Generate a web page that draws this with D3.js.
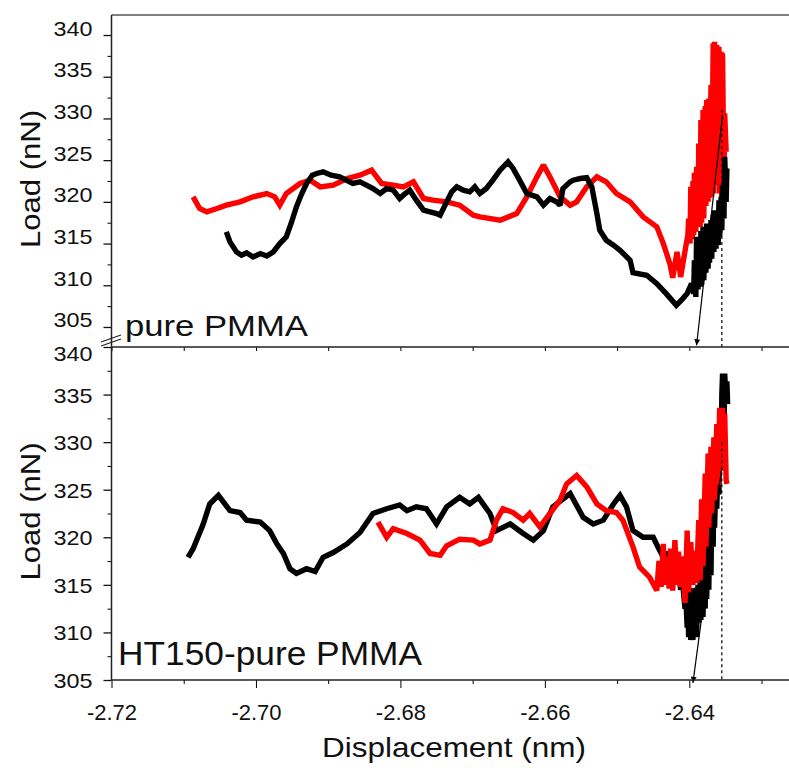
<!DOCTYPE html>
<html>
<head>
<meta charset="utf-8">
<script src="https://cdn.jsdelivr.net/npm/d3@7"></script>
<style>
  body { margin: 0; background: #fff; }
  text { font-family: Arial, "Liberation Sans", sans-serif; fill: #111; }
</style>
</head>
<body>
<div id="chart"></div>
<script>
// tick values
const xMajor = [-2.72, -2.70, -2.68, -2.66, -2.64];
const xMinor = [-2.71, -2.69, -2.67, -2.65, -2.63];
const yMajor = [305, 310, 315, 320, 325, 330, 335, 340];
const yMinor = [307.5, 312.5, 317.5, 322.5, 327.5, 332.5, 337.5];

// pure PMMA (top panel) : [displacement, load]
const topBlack = [[-2.7041,316.4],[-2.7036,315.2],[-2.7027,314.0],[-2.7020,313.6],[-2.7013,313.9],[-2.7004,313.4],[-2.6994,313.8],[-2.6985,313.5],[-2.6976,314.0],[-2.6967,315.0],[-2.6958,315.8],[-2.6951,317.5],[-2.6944,319.4],[-2.6937,320.9],[-2.6930,322.2],[-2.6922,323.2],[-2.6916,323.4],[-2.6907,323.6],[-2.6896,323.2],[-2.6884,323.0],[-2.6875,322.6],[-2.6866,322.2],[-2.6856,322.4],[-2.6847,322.0],[-2.6838,321.6],[-2.6828,321.0],[-2.6819,321.6],[-2.6810,321.4],[-2.6801,320.4],[-2.6796,320.8],[-2.6787,321.4],[-2.6778,320.2],[-2.6768,319.0],[-2.6759,318.8],[-2.6750,318.6],[-2.6745,318.4],[-2.6736,320.0],[-2.6729,321.2],[-2.6722,321.8],[-2.6713,321.4],[-2.6704,321.2],[-2.6697,321.8],[-2.6690,321.0],[-2.6681,321.6],[-2.6672,322.6],[-2.6662,323.8],[-2.6651,324.8],[-2.6644,324.0],[-2.6635,322.6],[-2.6625,321.0],[-2.6611,320.6],[-2.6602,319.6],[-2.6593,320.4],[-2.6584,320.0],[-2.6579,319.6],[-2.6575,321.6],[-2.6565,322.4],[-2.6561,322.6],[-2.6551,322.8],[-2.6542,322.9],[-2.6535,321.8],[-2.6528,318.6],[-2.6524,316.6],[-2.6515,315.4],[-2.6505,314.8],[-2.6496,314.2],[-2.6482,313.0],[-2.6478,311.5],[-2.6459,311.2],[-2.6445,310.2],[-2.6432,309.0],[-2.6418,307.6],[-2.6409,308.4],[-2.6403,309.0],[-2.6397,310.2],
  [-2.6394,309.0],[-2.6393,313.0],[-2.6391,308.6],[-2.6390,315.8],[-2.6388,309.5],[-2.6387,314.0],[-2.6385,309.8],[-2.6384,316.5],[-2.6383,310.0],[-2.6381,317.0],[-2.6380,310.6],[-2.6378,315.0],[-2.6377,311.5],[-2.6376,317.4],[-2.6374,312.0],[-2.6373,316.5],[-2.6372,312.7],[-2.6370,317.8],[-2.6369,313.2],[-2.6367,318.4],[-2.6366,314.0],[-2.6365,319.0],[-2.6363,314.4],[-2.6362,318.0],[-2.6360,314.8],[-2.6359,320.2],[-2.6358,315.8],[-2.6356,320.6],[-2.6355,316.6],[-2.6354,322.0],[-2.6352,318.0],[-2.6351,325.4],[-2.6349,320.0],[-2.6348,324.0]];

const topRed = [[-2.7087,320.6],[-2.7078,319.2],[-2.7068,318.8],[-2.7054,319.2],[-2.7041,319.6],[-2.7022,320.0],[-2.7004,320.6],[-2.6985,321.0],[-2.6974,320.6],[-2.6967,319.6],[-2.6958,321.0],[-2.6939,322.2],[-2.6925,322.6],[-2.6911,321.8],[-2.6893,322.0],[-2.6874,322.8],[-2.6856,323.2],[-2.6840,323.8],[-2.6826,322.2],[-2.6810,322.0],[-2.6796,321.8],[-2.6782,322.4],[-2.6768,320.4],[-2.6755,320.2],[-2.6736,320.0],[-2.6718,319.6],[-2.6699,318.4],[-2.6690,318.2],[-2.6662,317.8],[-2.6639,318.6],[-2.6625,320.6],[-2.6611,323.0],[-2.6602,324.4],[-2.6593,323.0],[-2.6579,320.6],[-2.6565,319.6],[-2.6556,320.0],[-2.6542,321.8],[-2.6528,323.0],[-2.6515,322.4],[-2.6501,321.0],[-2.6482,320.0],[-2.6464,318.2],[-2.6445,317.0],[-2.6436,315.0],[-2.6427,312.6],[-2.6423,310.9],[-2.6417,314.0],[-2.6412,311.0],[-2.6405,314.6],[-2.6402,316.0],
  [-2.6401,318.0],[-2.6399,315.0],[-2.6398,321.8],[-2.6396,315.5],[-2.6395,322.5],[-2.6394,316.0],[-2.6393,323.5],[-2.6391,316.4],[-2.6390,324.2],[-2.6388,317.0],[-2.6387,327.0],[-2.6385,317.0],[-2.6384,329.8],[-2.6383,317.5],[-2.6381,331.0],[-2.6380,318.0],[-2.6378,331.5],[-2.6377,319.5],[-2.6376,332.2],[-2.6374,320.0],[-2.6373,332.4],[-2.6372,320.5],[-2.6370,334.0],[-2.6369,320.6],[-2.6367,339.0],[-2.6366,321.0],[-2.6365,339.2],[-2.6363,322.0],[-2.6362,338.8],[-2.6360,322.6],[-2.6359,338.6],[-2.6358,321.0],[-2.6356,338.0],[-2.6355,318.2],[-2.6354,337.8],[-2.6352,322.0],[-2.6351,330.6],[-2.6349,326.0]];

// HT150-pure PMMA (bottom panel)
const botBlack = [[-2.7094,317.9],[-2.7087,318.8],[-2.7073,321.4],[-2.7064,323.5],[-2.7052,324.4],[-2.7036,322.8],[-2.7022,322.6],[-2.7013,321.8],[-2.6994,321.6],[-2.6981,320.7],[-2.6971,319.3],[-2.6962,318.3],[-2.6953,316.7],[-2.6944,316.2],[-2.6930,316.7],[-2.6918,316.4],[-2.6907,317.9],[-2.6893,318.4],[-2.6874,319.3],[-2.6856,320.5],[-2.6838,322.5],[-2.6819,323.0],[-2.6801,323.4],[-2.6791,322.8],[-2.6778,323.2],[-2.6764,323.0],[-2.6750,321.4],[-2.6736,323.2],[-2.6718,324.2],[-2.6704,323.5],[-2.6692,324.2],[-2.6676,322.5],[-2.6667,320.7],[-2.6648,321.4],[-2.6630,320.4],[-2.6616,319.7],[-2.6602,320.7],[-2.6589,323.2],[-2.6565,324.6],[-2.6547,322.1],[-2.6533,321.4],[-2.6519,321.8],[-2.6505,323.5],[-2.6496,324.4],[-2.6487,323.2],[-2.6478,320.7],[-2.6464,320.0],[-2.6450,320.0],[-2.6441,318.6],
  [-2.6438,318.2],[-2.6434,317.0],[-2.6430,318.5],[-2.6427,316.5],[-2.6423,317.5],[-2.6419,315.5],[-2.6415,316.5],[-2.6412,314.5],[-2.6409,315.0],[-2.6406,312.5],[-2.6405,314.0],[-2.6403,310.5],[-2.6402,313.5],[-2.6401,309.5],[-2.6399,314.7],[-2.6398,309.2],[-2.6396,313.0],[-2.6395,309.2],[-2.6394,314.5],[-2.6393,309.8],[-2.6391,314.7],[-2.6390,309.5],[-2.6388,315.0],[-2.6387,311.0],[-2.6385,315.5],[-2.6384,311.3],[-2.6383,316.0],[-2.6381,311.6],[-2.6380,317.0],[-2.6378,312.5],[-2.6377,318.5],[-2.6376,313.5],[-2.6374,319.3],[-2.6373,314.5],[-2.6372,321.0],[-2.6370,316.0],[-2.6369,322.5],[-2.6367,319.0],[-2.6366,324.5],[-2.6365,321.0],[-2.6363,327.0],[-2.6362,323.0],[-2.6360,328.5],[-2.6359,324.5],[-2.6358,332.2],[-2.6356,327.0],[-2.6355,335.0],[-2.6354,337.2],[-2.6352,330.0],[-2.6351,337.2],[-2.6349,334.0],[-2.6348,336.4],[-2.6347,334.0]];

const botRed = [[-2.6831,321.6],[-2.6819,320.0],[-2.6810,320.9],[-2.6791,320.4],[-2.6773,319.7],[-2.6759,318.3],[-2.6745,318.1],[-2.6736,319.1],[-2.6718,319.8],[-2.6699,319.7],[-2.6690,319.3],[-2.6676,319.7],[-2.6667,321.8],[-2.6658,323.0],[-2.6644,322.6],[-2.6630,321.8],[-2.6621,322.5],[-2.6607,321.1],[-2.6593,322.5],[-2.6579,323.9],[-2.6570,325.6],[-2.6556,326.5],[-2.6542,325.3],[-2.6528,323.5],[-2.6515,322.8],[-2.6501,322.6],[-2.6492,321.8],[-2.6478,319.0],[-2.6469,316.9],[-2.6455,315.8],[-2.6445,314.4],
  [-2.6442,317.5],[-2.6439,314.8],[-2.6436,319.3],[-2.6434,315.0],[-2.6431,318.0],[-2.6428,314.6],[-2.6426,318.8],[-2.6423,314.4],[-2.6420,319.7],[-2.6417,315.0],[-2.6415,318.5],[-2.6412,314.8],[-2.6409,318.0],[-2.6406,313.1],[-2.6403,320.7],[-2.6401,314.2],[-2.6398,319.5],[-2.6395,315.0],[-2.6393,318.6],[-2.6390,315.2],[-2.6387,321.8],[-2.6385,315.5],[-2.6383,324.0],[-2.6381,317.0],[-2.6378,326.7],[-2.6377,319.0],[-2.6374,328.8],[-2.6373,321.0],[-2.6370,329.5],[-2.6369,322.5],[-2.6366,330.5],[-2.6365,323.9],[-2.6362,331.9],[-2.6360,325.5],[-2.6358,333.6],[-2.6356,328.1],[-2.6354,333.6],[-2.6352,327.0],[-2.6351,333.0],[-2.6349,326.0],[-2.6348,325.6]];

// annotation arrows and dashed marker
const arrowTop = [[-2.6354, 330.4], [-2.6390, 302.8]];
const arrowBot = [[-2.6355, 327.4], [-2.6395, 304.7]];
const dashX = -2.6355;

const width = 789, height = 774;
const left = 111.5, right = 789;

const svg = d3.select("#chart").append("svg")
  .attr("width", width)
  .attr("height", height);

const defs = svg.append("defs");
defs.append("marker")
  .attr("id", "arrow")
  .attr("viewBox", "0 0 10 10")
  .attr("refX", 10).attr("refY", 5)
  .attr("markerWidth", 10).attr("markerHeight", 6)
  .attr("markerUnits", "userSpaceOnUse")
  .attr("orient", "auto")
  .append("path")
  .attr("d", "M0,0 L10,5 L0,10 z")
  .attr("fill", "#000");

let x = d3.scaleLinear().domain([-2.72, -2.6262]).range([left, right]);
let yTop = d3.scaleLinear().domain([302.6, 342.4]).range([347, 15]);
let yBot = d3.scaleLinear().domain([305, 340]).range([680, 347]);

let panels = [
  { y: yTop, black: topBlack, red: topRed, arrow: arrowTop, dashFrom: 331, label: "pure PMMA", redOnTop: false },
  { y: yBot, black: botBlack, red: botRed, arrow: arrowBot, dashFrom: 330, label: "HT150-pure PMMA", redOnTop: true }
];

panels.forEach((p, i) => {
  let line = d3.line().x(d => x(d[0])).y(d => p.y(d[1]));
  let g = svg.append("g");

  let order = p.redOnTop ? [["#000", p.black], ["#ff0000", p.red]] : [["#ff0000", p.red], ["#000", p.black]];
  for (let [col, data] of order) {
    g.append("path")
      .datum(data)
      .attr("fill", "none")
      .attr("stroke", col)
      .attr("stroke-width", 5.4)
      .attr("stroke-linejoin", "miter")
      .attr("stroke-miterlimit", 2)
      .attr("d", line);
  }

  // dashed vertical
  g.append("line")
    .attr("x1", x(dashX)).attr("x2", x(dashX))
    .attr("y1", p.y(p.dashFrom)).attr("y2", p.y.range()[0])
    .attr("stroke", "#000")
    .attr("stroke-width", 1.2)
    .attr("stroke-dasharray", "3,3");

  // arrow
  g.append("line")
    .attr("x1", x(p.arrow[0][0])).attr("y1", p.y(p.arrow[0][1]))
    .attr("x2", x(p.arrow[1][0])).attr("y2", p.y(p.arrow[1][1]))
    .attr("stroke", "#000")
    .attr("stroke-width", 1.2)
    .attr("marker-end", "url(#arrow)");

  // y axis ticks
  let ax = svg.append("g").attr("transform", `translate(${left},0)`);
  ax.append("g")
    .call(d3.axisLeft(p.y).tickValues(yMinor).tickSize(4).tickFormat(""))
    .call(s => s.select(".domain").remove());
  let maj = ax.append("g")
    .call(d3.axisLeft(p.y).tickValues(yMajor).tickSize(8).tickPadding(11))
    .call(s => s.select(".domain").remove());
  maj.selectAll("line").attr("stroke", "#111").attr("stroke-width", 1.3);
  maj.selectAll("text")
    .attr("font-size", 21)
    .attr("textLength", 39)
    .attr("lengthAdjust", "spacingAndGlyphs")
    .attr("fill", "#111")
    .attr("dy", i === 0 ? "0em" : "0.36em");
  if (i === 1) {
    maj.selectAll(".tick").filter(d => d === 340).select("text").attr("y", 6);
  }

  // y title
  let yc = (p.y(305) + p.y(340)) / 2 - 2;
  svg.append("text")
    .attr("transform", `translate(40,${yc}) rotate(-90)`)
    .attr("text-anchor", "middle")
    .attr("font-size", 28)
    .attr("textLength", 138)
    .attr("lengthAdjust", "spacingAndGlyphs")
    .text("Load (nN)");
});

// x ticks on the top panel's lower edge (no labels)
svg.append("g")
  .attr("transform", "translate(0,347)")
  .call(d3.axisBottom(x).tickValues(xMajor.concat(xMinor)).tickSize(4).tickFormat(""))
  .call(s => s.select(".domain").remove());

// bottom x axis
let xb = svg.append("g").attr("transform", "translate(0,680)");
xb.append("g")
  .call(d3.axisBottom(x).tickValues(xMinor).tickSize(4).tickFormat(""))
  .call(s => s.select(".domain").remove());
let xm = xb.append("g")
  .call(d3.axisBottom(x).tickValues(xMajor).tickSize(8).tickPadding(16).tickFormat(d => d.toFixed(2)))
  .call(s => s.select(".domain").remove());
xm.selectAll("text").attr("font-size", 22).attr("fill", "#111");

// frame lines
let frame = svg.append("g").attr("stroke", "#222").attr("stroke-width", 1.5);
frame.append("line").attr("x1", left).attr("x2", right).attr("y1", 15).attr("y2", 15).attr("stroke", "#555");
frame.append("line").attr("x1", left).attr("x2", right).attr("y1", 347).attr("y2", 347);
frame.append("line").attr("x1", left).attr("x2", right).attr("y1", 680).attr("y2", 680);
frame.append("line").attr("x1", left).attr("x2", left).attr("y1", 15).attr("y2", 680);

// axis break mark
let brk = svg.append("g").attr("stroke", "#222").attr("stroke-width", 1.1);
brk.append("line").attr("x1", 101).attr("y1", 342).attr("x2", 121).attr("y2", 335);
brk.append("line").attr("x1", 101).attr("y1", 346).attr("x2", 121).attr("y2", 339);

// panel labels
svg.append("text")
  .attr("x", 125).attr("y", 336)
  .attr("font-size", 29)
  .attr("textLength", 183)
  .attr("lengthAdjust", "spacingAndGlyphs")
  .text(panels[0].label);
svg.append("text")
  .attr("x", 118).attr("y", 665)
  .attr("font-size", 34)
  .attr("textLength", 304)
  .attr("lengthAdjust", "spacingAndGlyphs")
  .text(panels[1].label);

// x title
svg.append("text")
  .attr("x", 454).attr("y", 757)
  .attr("text-anchor", "middle")
  .attr("font-size", 28)
  .attr("textLength", 264)
  .attr("lengthAdjust", "spacingAndGlyphs")
  .text("Displacement (nm)");
</script>
</body>
</html>
